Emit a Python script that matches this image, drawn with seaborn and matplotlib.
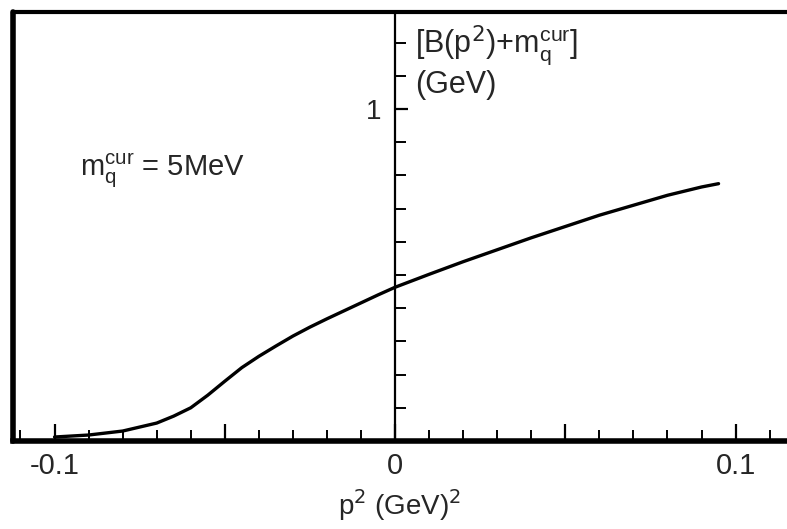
import numpy as np
import pandas as pd
import matplotlib
matplotlib.use("Agg")
import matplotlib.pyplot as plt
import seaborn as sns
from matplotlib.ticker import FixedLocator, MultipleLocator

# Data
p2 = [-0.1, -0.09, -0.08, -0.07, -0.065, -0.06, -0.055, -0.05, -0.045, -0.04,
      -0.035, -0.03, -0.025, -0.02, -0.015, -0.01, -0.005, 0.0, 0.01, 0.02,
      0.03, 0.04, 0.05, 0.06, 0.07, 0.08, 0.09, 0.095]
mass = [0.012, 0.018, 0.03, 0.054, 0.075, 0.10, 0.138, 0.18, 0.221, 0.255,
        0.286, 0.316, 0.343, 0.368, 0.392, 0.416, 0.44, 0.463, 0.502, 0.54,
        0.576, 0.612, 0.646, 0.68, 0.71, 0.74, 0.765, 0.775]
x_ticks = [-0.1, -0.05, 0.0, 0.05, 0.1]
x_tick_labels = ["-0.1", "", "0", "", "0.1"]
y_ticks = [1.0]
y_tick_labels = ["1"]

df = pd.DataFrame({"p2": p2, "mass": mass})

sns.set_theme(style="white")
plt.rcParams["font.family"] = ["Liberation Sans Narrow", "Liberation Sans", "DejaVu Sans"]

fig = plt.figure(figsize=(7.87, 5.29), dpi=100)
ax = fig.add_axes([13 / 787, 88 / 529, 1 - 13 / 787, (441 - 12) / 529])

sns.lineplot(data=df, x="p2", y="mass", ax=ax, color="black", lw=2.4)

xmin, xmax = -0.1122, 0.1151
ax.set_xlim(xmin, xmax)
ax.set_ylim(0, 1.292)

# spines
ax.spines["right"].set_visible(False)
ax.spines["top"].set_linewidth(3)
ax.spines["bottom"].set_linewidth(4)
ax.spines["left"].set_position(("data", 0))
ax.spines["left"].set_linewidth(1.6)
for s in ax.spines.values():
    s.set_color("black")
# outer left border of the box
ax.axvline(xmin, color="black", lw=4, clip_on=False)

# x ticks
ax.xaxis.set_major_locator(FixedLocator(x_ticks))
ax.set_xticklabels(x_tick_labels)
ax.xaxis.set_minor_locator(MultipleLocator(0.01))
ax.tick_params(axis="x", which="major", direction="in", length=12, width=1.6,
               labelsize=21, pad=8, bottom=True, color="black")
ax.tick_params(axis="x", which="minor", direction="in", length=8, width=1.4,
               bottom=True, color="black")

# y ticks on centre axis
ax.yaxis.set_major_locator(FixedLocator(y_ticks))
ax.set_yticklabels(y_tick_labels)
ax.yaxis.set_minor_locator(MultipleLocator(0.1))
ax.tick_params(axis="y", which="major", direction="in", length=9, width=1.6,
               labelsize=20, pad=10, left=True, color="black")
ax.tick_params(axis="y", which="minor", direction="in", length=8, width=1.4,
               left=True, color="black")

ax.set_xlabel(r"p$^2$ (GeV)$^2$", fontsize=20, labelpad=5)
ax.set_ylabel("")
ax.grid(False)

ax.text(0.006, 1.19, r"[B(p$^2$)+m$_\mathregular{q}^\mathregular{cur}$]",
        fontsize=22, ha="left", va="center")
ax.text(0.006, 1.072, "(GeV)", fontsize=22, ha="left", va="center")
ax.text(-0.0925, 0.813, r"m$_\mathregular{q}^\mathregular{cur}$ = 5MeV",
        fontsize=21, ha="left", va="center")

fig.savefig("out.png", dpi=100)
